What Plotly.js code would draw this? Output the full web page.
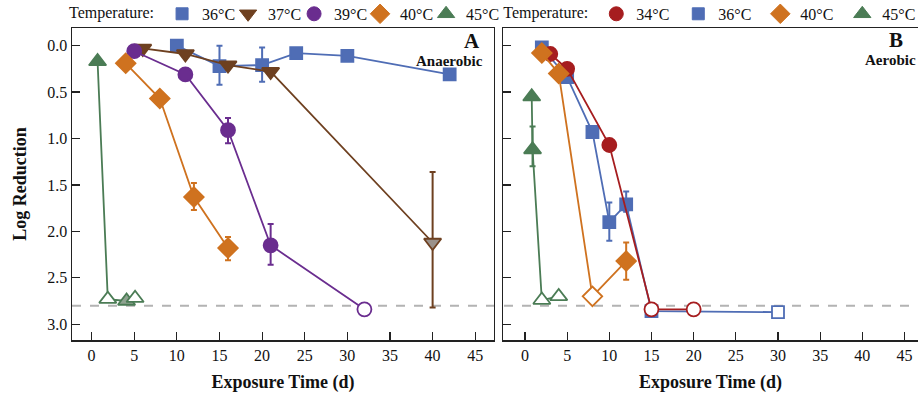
<!DOCTYPE html>
<html>
<head>
<meta charset="utf-8">
<script src="https://cdn.plot.ly/plotly-3.0.1.min.js"></script>
<style>html,body{margin:0;padding:0;background:#fff;}</style>
</head>
<body>
<div id="chart" style="width:918px;height:397px;"></div>
<script>
// ---------- Panel A (Anaerobic) ----------
const a36_day = [10, 15, 20, 24, 30, 42];
const a36_lr  = [0.00, 0.22, 0.21, 0.08, 0.11, 0.31];
const a36_up  = [0, 0.20, 0.18, 0, 0, 0];
const a36_dn  = [0, 0.22, 0.19, 0, 0, 0];
const a36_state = ['F','F','F','F','F','F'];

const a37_day = [6, 11, 16, 21, 40];
const a37_lr  = [0.03, 0.09, 0.21, 0.28, 2.12];
const a37_up  = [0, 0, 0, 0, 0.70];
const a37_dn  = [0, 0, 0, 0, 0.76];
const a37_state = ['F','F','F','F','G'];

const a39_day = [5, 11, 16, 21, 32];
const a39_lr  = [0.06, 0.31, 0.91, 2.15, 2.84];
const a39_up  = [0, 0, 0.14, 0.21, 0];
const a39_dn  = [0, 0, 0.13, 0.23, 0];
const a39_state = ['F','F','F','F','O'];

const a40_day = [4, 8, 12, 16];
const a40_lr  = [0.19, 0.57, 1.63, 2.18];
const a40_up  = [0, 0, 0.14, 0.13];
const a40_dn  = [0, 0, 0.15, 0.12];
const a40_state = ['F','F','F','F'];

const a45_day = [0.7, 1.9, 4.1, 5.1];
const a45_lr  = [0.17, 2.73, 2.75, 2.72];
const a45_state = ['F','O','G','O'];

// ---------- Panel B (Aerobic) ----------
const b34_day = [3, 5, 10, 15, 20];
const b34_lr  = [0.09, 0.25, 1.07, 2.84, 2.84];
const b34_up  = [0, 0, 0.06, 0, 0];
const b34_dn  = [0, 0, 0.06, 0, 0];
const b34_state = ['F','F','F','O','O'];

const b36_day = [2, 5, 8, 10, 12, 15, 30];
const b36_lr  = [0.02, 0.34, 0.93, 1.90, 1.71, 2.86, 2.87];
const b36_up  = [0, 0, 0, 0.20, 0.08, 0, 0];
const b36_dn  = [0, 0, 0, 0.21, 0.14, 0, 0];
const b36_state = ['F','F','F','F','F','F','O'];

const b40_day = [2, 4, 8, 12];
const b40_lr  = [0.08, 0.30, 2.70, 2.32];
const b40_up  = [0, 0, 0, 0.20];
const b40_dn  = [0, 0, 0, 0.20];
const b40_state = ['F','F','O','F'];

const b45_day = [0.8, 0.9, 2, 4];
const b45_lr  = [0.55, 1.12, 2.74, 2.70];
const b45_up  = [0, 0.18, 0, 0];
const b45_dn  = [0, 0.25, 0, 0];
const b45_state = ['F','F','O','O'];

const detectionLimit = 2.8;
const xTicks = [0, 5, 10, 15, 20, 25, 30, 35, 40, 45];
const yTicks = [0, 0.5, 1.0, 1.5, 2.0, 2.5, 3.0];
const legendA = ['36°C', '37°C', '39°C', '40°C', '45°C'];
const legendB = ['34°C', '36°C', '40°C', '45°C'];

// ---------- styles ----------
const C = {
  blue: '#4f6db5', brown: '#6e4020', purple: '#6a2d8f',
  orange: '#cf721f', green: '#4b7c55', red: '#a61d1f'
};
const GREY_FILL = {brown: '#9a918a', green: '#8fa391'};
const SYM = {c36: 'square', c37: 'triangle-down', c39: 'circle', c40: 'diamond', c45: 'triangle-up', c34: 'circle'};
const SIZE = {square: 12, 'triangle-down': 15, circle: 14, diamond: 15, 'triangle-up': 15};

function fills(states, col, greyCol) {
  return states.map(s => s === 'F' ? col : (s === 'O' ? '#ffffff' : greyCol));
}

function series(x, y, up, dn, states, colKey, sym, xa, ya) {
  const col = C[colKey];
  const t = {
    x: x, y: y, xaxis: xa, yaxis: ya, type: 'scatter', mode: 'lines+markers',
    showlegend: false, hoverinfo: 'skip', cliponaxis: false,
    line: {color: col, width: 1.8},
    marker: {symbol: sym, size: SIZE[sym], color: fills(states, col, GREY_FILL[colKey] || col),
             line: {color: col, width: 1.8}}
  };
  if (up) {
    t.error_y = {type: 'data', symmetric: false, array: up, arrayminus: dn,
                 color: col, thickness: 2, width: 3};
  }
  return t;
}

function legendItem(name, colKey, sym, legendId) {
  return {
    x: [null], y: [null], type: 'scatter', mode: 'markers', name: name,
    legend: legendId, showlegend: true, hoverinfo: 'skip',
    marker: {symbol: sym, size: SIZE[sym], color: C[colKey], line: {color: C[colKey], width: 1}}
  };
}
// invisible trailing entry so the last legend label is not clipped
function legendSpacer(legendId) {
  return {
    x: [null], y: [null], type: 'scatter', mode: 'markers', name: ' ',
    legend: legendId, showlegend: true, hoverinfo: 'skip',
    marker: {size: 1, color: 'rgba(0,0,0,0)', opacity: 0}
  };
}

const data = [
  series(a36_day, a36_lr, a36_up, a36_dn, a36_state, 'blue', SYM.c36, 'x', 'y'),
  series(a37_day, a37_lr, a37_up, a37_dn, a37_state, 'brown', SYM.c37, 'x', 'y'),
  series(a39_day, a39_lr, a39_up, a39_dn, a39_state, 'purple', SYM.c39, 'x', 'y'),
  series(a40_day, a40_lr, a40_up, a40_dn, a40_state, 'orange', SYM.c40, 'x', 'y'),
  series(a45_day, a45_lr, null, null, a45_state, 'green', SYM.c45, 'x', 'y'),

  series(b36_day, b36_lr, b36_up, b36_dn, b36_state, 'blue', SYM.c36, 'x2', 'y2'),
  series(b34_day, b34_lr, b34_up, b34_dn, b34_state, 'red', SYM.c34, 'x2', 'y2'),
  series(b40_day, b40_lr, b40_up, b40_dn, b40_state, 'orange', SYM.c40, 'x2', 'y2'),
  series(b45_day, b45_lr, b45_up, b45_dn, b45_state, 'green', SYM.c45, 'x2', 'y2'),

  legendItem(legendA[0], 'blue', SYM.c36, 'legend'),
  legendItem(legendA[1], 'brown', SYM.c37, 'legend'),
  legendItem(legendA[2], 'purple', SYM.c39, 'legend'),
  legendItem(legendA[3], 'orange', SYM.c40, 'legend'),
  legendItem(legendA[4], 'green', SYM.c45, 'legend'),
  legendSpacer('legend'),

  legendItem(legendB[0], 'red', SYM.c34, 'legend2'),
  legendItem(legendB[1], 'blue', SYM.c36, 'legend2'),
  legendItem(legendB[2], 'orange', SYM.c40, 'legend2'),
  legendItem(legendB[3], 'green', SYM.c45, 'legend2'),
  legendSpacer('legend2')
];

const FONT = 'Liberation Serif, Times New Roman, serif';
const axisLine = {showline: true, mirror: true, linecolor: '#222', linewidth: 1.5,
                  showgrid: false, zeroline: false, ticks: 'inside', ticklen: 8,
                  tickwidth: 1.2, tickcolor: '#222', tickfont: {family: FONT, size: 16, color: '#111'}};

function xAxis(domain, range, anchor) {
  return Object.assign({}, axisLine, {
    domain: domain, range: range, anchor: anchor, tickvals: xTicks,
    title: {text: '<b>Exposure Time (d)</b>', font: {family: FONT, size: 18, color: '#111'}, standoff: 12}
  });
}
function yAxis(anchor, labels) {
  const ax = Object.assign({}, axisLine, {
    anchor: anchor, range: [3.17, -0.19], tickvals: yTicks, tickformat: '.1f',
    showticklabels: labels
  });
  if (labels) ax.title = {text: '<b>Log Reduction</b>', font: {family: FONT, size: 18, color: '#111'}, standoff: 16};
  return ax;
}

const legendCommon = {
  orientation: 'h', xref: 'container', yref: 'container', yanchor: 'middle', xanchor: 'left',
  bgcolor: 'rgba(0,0,0,0)', borderwidth: 0, font: {family: FONT, size: 16, color: '#111'},
  itemclick: false, itemdoubleclick: false, entrywidthmode: 'pixels'
};

const layout = {
  width: 918, height: 397,
  margin: {l: 72, r: 0, t: 28, b: 57, autoexpand: false},
  paper_bgcolor: '#ffffff', plot_bgcolor: '#ffffff',
  font: {family: FONT, size: 15, color: '#111'},
  xaxis: xAxis([0, 0.4988], [-2.3, 47.2], 'y'),
  yaxis: yAxis('x', true),
  xaxis2: xAxis([0.5095, 1], [-2.6, 46.6], 'y2'),
  yaxis2: yAxis('x2', false),
  legend: Object.assign({}, legendCommon, {
    x: 0.073, y: 0.965, entrywidth: 21,
    title: {text: 'Temperature:', font: {family: FONT, size: 16, color: '#111'}}
  }),
  legend2: Object.assign({}, legendCommon, {
    x: 0.546, y: 0.965, entrywidth: 37,
    title: {text: 'Temperature:', font: {family: FONT, size: 16, color: '#111'}}
  }),
  shapes: [{
    type: 'line', xref: 'paper', yref: 'y', x0: 0, x1: 1, y0: detectionLimit, y1: detectionLimit,
    line: {color: '#b3b3b3', width: 2, dash: 'dash'}, layer: 'below'
  }],
  annotations: [
    {text: '<b>A</b>', xref: 'paper', yref: 'paper', x: 0.4728, y: 0.958, xanchor: 'center', yanchor: 'middle',
     showarrow: false, font: {family: FONT, size: 21, color: '#111'}},
    {text: '<b>Anaerobic</b>', xref: 'paper', yref: 'paper', x: 0.4468, y: 0.895, xanchor: 'center', yanchor: 'middle',
     showarrow: false, font: {family: FONT, size: 15, color: '#111'}},
    {text: '<b>B</b>', xref: 'paper', yref: 'paper', x: 0.974, y: 0.96, xanchor: 'center', yanchor: 'middle',
     showarrow: false, font: {family: FONT, size: 21, color: '#111'}},
    {text: '<b>Aerobic</b>', xref: 'paper', yref: 'paper', x: 0.967, y: 0.898, xanchor: 'center', yanchor: 'middle',
     showarrow: false, font: {family: FONT, size: 15, color: '#111'}}
  ]
};

Plotly.newPlot('chart', data, layout, {displayModeBar: false, staticPlot: true});
</script>
</body>
</html>
